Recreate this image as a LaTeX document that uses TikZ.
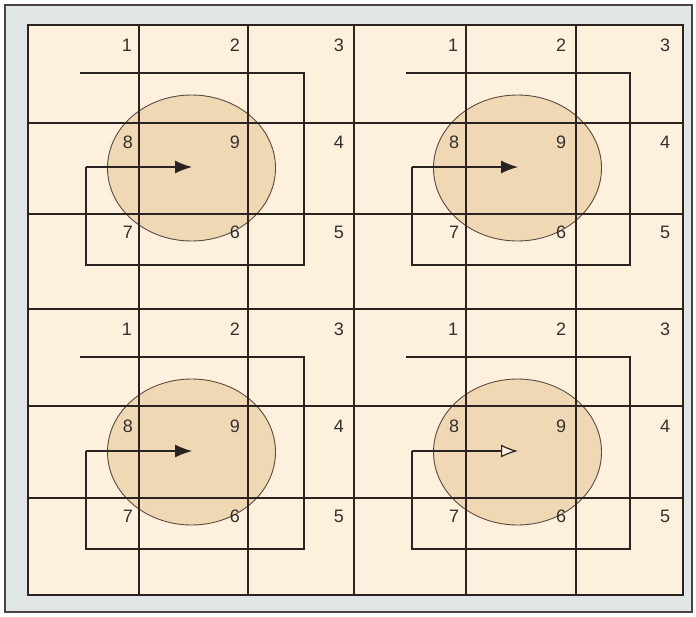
\documentclass[tikz,border=0pt]{standalone}
\usepackage{fontspec}
\setmainfont{Liberation Sans}
\usetikzlibrary{arrows.meta}
\definecolor{frameblue}{HTML}{DFE6E5}
\definecolor{paper}{HTML}{FDF0DC}
\definecolor{tanfill}{HTML}{F0D8B5}
\definecolor{ink}{HTML}{2B2222}
\definecolor{rim}{HTML}{5A4A40}
\definecolor{digitc}{HTML}{333030}
\begin{document}
\begin{tikzpicture}[x=1pt,y=-1pt,
  gridline/.style={draw=ink,line width=1.2pt},
  bracket/.style={draw=ink,line width=1.2pt},
  blob/.style={fill=tanfill,draw=rim,line width=0.9pt},
  digit/.style={inner sep=0pt,text=digitc,font=\fontsize{18}{21}\selectfont},
  solidtip/.style={-{Latex[length=17pt,width=13pt]}},
  opentip/.style={-{Latex[open,length=17pt,width=13pt,fill=paper]}}]
\useasboundingbox (0,0) rectangle (696,616);
\draw[fill=frameblue,draw=ink!85,line width=1.2pt] (5,5) rectangle (692,612);
\fill[paper] (28,25) rectangle (683,595);
% ellipses
\foreach \i/\dx/\dy in {1/0/0,2/326/0,3/0/284,4/326/284}{
  \begin{scope}[shift={(\dx,\dy)}]
    \path[blob] (191.5,168) ellipse [x radius=84, y radius=73];
  \end{scope}
}
% grid
\foreach \x in {139,248,354,466,576}{
  \draw[gridline] (\x,25) -- (\x,595);
}
\foreach \y in {123,214,309,406,498}{
  \draw[gridline] (28,\y) -- (683,\y);
}
\draw[gridline] (28,25) rectangle (683,595);
% brackets, arrows, digits
\foreach \i/\dx/\dy in {1/0/0,2/326/0,3/0/284,4/326/284}{
  \begin{scope}[shift={(\dx,\dy)}]
    \coordinate (a\i) at (80,73);
    \coordinate (b\i) at (304,73);
    \coordinate (c\i) at (304,265);
    \coordinate (e\i) at (86,265);
    \coordinate (s\i) at (86,167);
    \coordinate (t\i) at (192,167);
    \draw[bracket] (a\i) -- (b\i) -- (c\i) -- (e\i) -- (s\i);
    \ifnum\i=4
      \draw[bracket,opentip] (s\i) -- (t\i);
    \else
      \draw[bracket,solidtip] (s\i) -- (t\i);
    \fi
    \node[digit] (d\i-1) at (127,45) {1};
    \node[digit] (d\i-2) at (235,45) {2};
    \node[digit] (d\i-3) at (339,45) {3};
    \node[digit] (d\i-8) at (128,142) {8};
    \node[digit] (d\i-9) at (235,142) {9};
    \node[digit] (d\i-4) at (339,142) {4};
    \node[digit] (d\i-7) at (128,232) {7};
    \node[digit] (d\i-6) at (235,232) {6};
    \node[digit] (d\i-5) at (339,232) {5};
  \end{scope}
}
\end{tikzpicture}
\end{document}
